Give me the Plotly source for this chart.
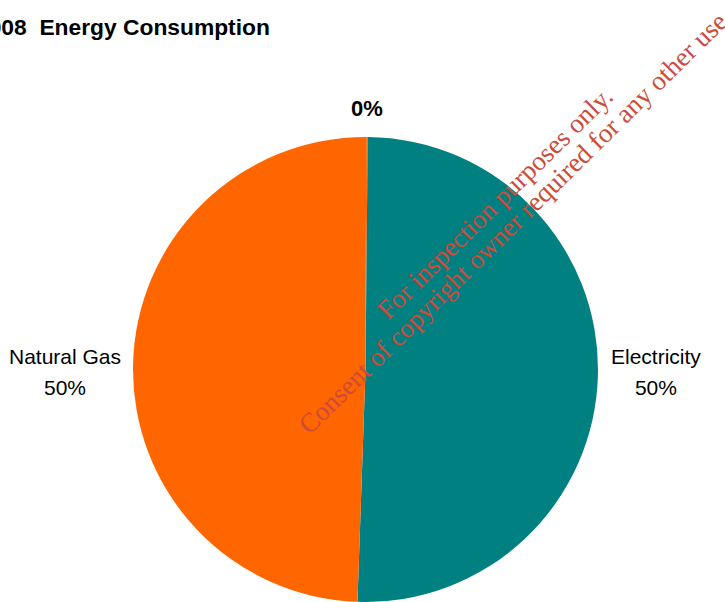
import plotly.graph_objects as go

title_text = "2008  Energy Consumption"
categories = ["Other", "Electricity", "Natural Gas"]
values = [0.1, 50.4, 49.5]
colors = ["#FF6600", "#008080", "#FF6600"]
show_name = [False, True, True]
watermark_lines = ["For inspection purposes only.", "Consent of copyright owner required for any other use."]

fig = go.Figure(go.Pie(
    labels=categories,
    values=values,
    sort=False,
    direction="clockwise",
    rotation=0.18,
    marker=dict(colors=colors, line=dict(width=0)),
    textinfo="none",
    showlegend=False,
    hoverinfo="label+percent",
))

W, H = 725, 602
ml, mr, mt, mb = 133, 127, 137, 0
pw, ph = W - ml - mr, H - mt - mb

def px_to_paper(x, y):
    return (x - ml) / pw, 1 - (y - mt) / ph

# data labels (text computed from the values), placed like the original
total = sum(values)
label_pos = {"Other": (367, 109), "Electricity": (656, 371.5), "Natural Gas": (65, 371.5)}
for cat, v, named in zip(categories, values, show_name):
    pct = "{:.0f}%".format(v / total * 100)
    lx, ly = px_to_paper(*label_pos[cat])
    if named:
        txt = "<span style='font-size:21px'>" + cat + "</span><br><span style='font-size:21px'>" + pct + "</span>"
        fsize = 24
    else:
        txt = "<b>" + pct + "</b>"
        fsize = 22
    fig.add_annotation(text=txt, x=lx, y=ly, xref="paper", yref="paper",
                       xanchor="center", yanchor="middle", showarrow=False, align="center",
                       font=dict(family="Liberation Sans, Arial, sans-serif", size=fsize, color="#000000"))

tx, ty = px_to_paper(-26, 27)
fig.add_annotation(text="<b>" + title_text + "</b>", x=tx, y=ty, xref="paper", yref="paper",
                   xanchor="left", yanchor="middle", showarrow=False,
                   font=dict(family="Liberation Sans, Arial, sans-serif", size=22.8, color="#000000"))

for (cx, cy), line in zip([(495, 203), (515, 221)], watermark_lines):
    ax, ay = px_to_paper(cx, cy)
    fig.add_annotation(text=line, x=ax, y=ay, xref="paper", yref="paper",
                       xanchor="center", yanchor="middle", showarrow=False, textangle=-44.5,
                       font=dict(family="Liberation Serif, Times New Roman, serif", size=27, color="#CC4B3C"))

fig.update_layout(
    width=W, height=H,
    margin=dict(l=ml, r=mr, t=mt, b=mb, pad=0, autoexpand=False),
    paper_bgcolor="#FFFFFF", plot_bgcolor="#FFFFFF",
)

fig.write_html("out.html")
